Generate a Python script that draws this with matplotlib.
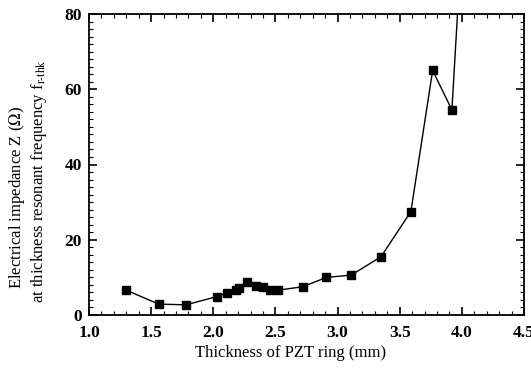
import numpy as np
import matplotlib
matplotlib.use('Agg')
import matplotlib.pyplot as plt
from matplotlib.ticker import MultipleLocator

thickness = [1.30, 1.56, 1.78, 2.03, 2.11, 2.18, 2.21, 2.27, 2.34, 2.40,
             2.46, 2.52, 2.72, 2.91, 3.11, 3.35, 3.59, 3.765, 3.92, 4.0]
impedance = [6.6, 2.9, 2.7, 4.9, 5.9, 6.6, 7.3, 8.9, 7.7, 7.4,
             6.6, 6.6, 7.5, 10.0, 10.6, 15.5, 27.5, 65.0, 54.5, 100.0]

plt.rcParams['font.family'] = ['Liberation Serif', 'DejaVu Serif']
plt.rcParams['mathtext.fontset'] = 'stix'

W, H = 531, 371
fig = plt.figure(figsize=(W / 100, H / 100), dpi=100)
ax = fig.add_axes([89 / W, 56 / H, 435 / W, 301 / H])
ax.plot(thickness, impedance, color='black', lw=1.0, marker='s', ms=6,
        mfc='black', mec='black')
ax.set_xlim(1.0, 4.5)
ax.set_ylim(0, 80)
ax.xaxis.set_major_locator(MultipleLocator(0.5))
ax.xaxis.set_minor_locator(MultipleLocator(0.1))
ax.yaxis.set_major_locator(MultipleLocator(20))
ax.yaxis.set_minor_locator(MultipleLocator(2))
ax.tick_params(which='both', direction='in', top=True, right=True,
               labelsize=12.5)
ax.tick_params(which='major', length=6, width=1.2)
ax.tick_params(which='minor', length=3, width=0.8)
ax.tick_params(axis='x', pad=7)
ax.tick_params(axis='y', pad=5)
for lab in ax.get_xticklabels() + ax.get_yticklabels():
    lab.set_fontweight('bold')
for s in ax.spines.values():
    s.set_linewidth(1.3)

fig.text(291 / W, 1 - 353 / H, 'Thickness of PZT ring (mm)', fontsize=12,
         ha='center', va='center')
fig.text(17 / W, 1 - 197 / H, 'Electrical impedance Z ($\\Omega$)',
         fontsize=12, rotation=90, ha='center', va='center')
fig.text(39 / W, 1 - 181 / H,
         'at thickness resonant frequency f$_{\\mathrm{r\\text{-}thk}}$',
         fontsize=12, rotation=90, ha='center', va='center')

fig.savefig('out.png', dpi=100)
